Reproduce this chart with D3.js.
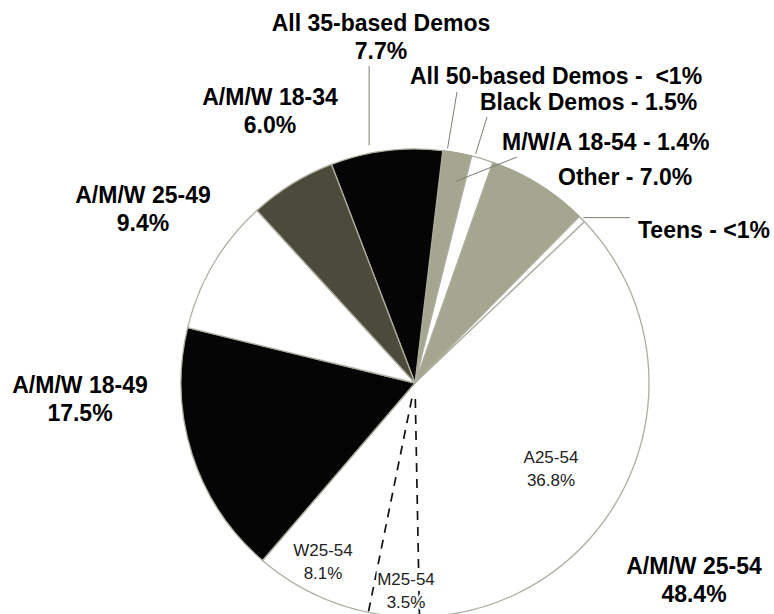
<!DOCTYPE html>
<html>
<head>
<meta charset="utf-8">
<script src="https://cdn.jsdelivr.net/npm/d3@7"></script>
<style>
  html, body { margin: 0; padding: 0; background: #fff; }
  svg { display: block; }
  .big { font-family: "Liberation Sans", Arial, sans-serif; font-weight: bold; font-size: 23px; fill: #000; white-space: pre; }
  .small { font-family: "Liberation Sans", Arial, sans-serif; font-size: 17px; fill: #222; }
</style>
</head>
<body>
<svg id="chart" width="774" height="614"></svg>
<script>
// Demo groups, clockwise from the top
const demoGroups = ["All 35-based Demos", "All 50-based Demos", "M/W/A 18-54", "Black Demos", "Other", "Teens",
                    "A/M/W 25-54", "A/M/W 18-49", "A/M/W 25-49", "A/M/W 18-34"];
const demoShares = [7.7, 0.6, 1.4, 1.5, 7.0, 0.5, 48.4, 17.5, 9.4, 6.0];
const demoShareText = ["7.7%", "<1%", "1.4%", "1.5%", "7.0%", "<1%", "48.4%", "17.5%", "9.4%", "6.0%"];

// Breakdown of the A/M/W 25-54 slice, clockwise
const subGroups = ["A25-54", "M25-54", "W25-54"];
const subShares = [36.8, 3.5, 8.1];
const subShareText = ["36.8%", "3.5%", "8.1%"];

const cx = 415, cy = 383, R = 234;
const startDeg = -20.9;
const rad = d => d * Math.PI / 180;

const GRAY = "#a4a690";
const fill = d3.scaleOrdinal().domain(demoGroups)
  .range(["#050505", GRAY, GRAY, "#ffffff", GRAY, "#ffffff",
          "#ffffff", "#050505", "#ffffff", "#4c4b3b"]);
const isGray = n => fill(n) === GRAY;

const svg = d3.select("#chart");
const g = svg.append("g").attr("transform", `translate(${cx},${cy})`);

const pie = d3.pie().sort(null).value(d => d.share)
  .startAngle(rad(startDeg)).endAngle(rad(startDeg + 360));
const slices = pie(demoGroups.map((name, i) => ({ name, share: demoShares[i], text: demoShareText[i] })));
const arc = d3.arc().innerRadius(0).outerRadius(R);

// gray slices first so the light outlines of the others stay on top
const drawOrder = slices.slice().sort((a, b) => (isGray(b.data.name) ? 1 : 0) - (isGray(a.data.name) ? 1 : 0));
g.selectAll("path.slice").data(drawOrder).join("path")
  .attr("class", "slice")
  .attr("d", arc)
  .attr("fill", d => fill(d.data.name))
  .attr("stroke", d => isGray(d.data.name) ? GRAY : "#aeaea0")
  .attr("stroke-width", 1.3)
  .attr("stroke-linejoin", "round");

// dashed split of the A/M/W 25-54 slice
const parent = slices.find(s => s.data.name === "A/M/W 25-54");
const subAngle = d3.scaleLinear().domain([0, d3.sum(subShares)]).range([parent.startAngle, parent.endAngle]);
const cum = d3.cumsum(subShares);
const splits = Array.from(cum).slice(0, -1).map(v => subAngle(v));
g.selectAll("line.split").data(splits).join("line")
  .attr("class", "split")
  .attr("x1", a => 16 * Math.sin(a)).attr("y1", a => -16 * Math.cos(a))
  .attr("x2", a => R * Math.sin(a)).attr("y2", a => -R * Math.cos(a))
  .attr("stroke", "#111").attr("stroke-width", 1.7).attr("stroke-dasharray", "9,7");

// label placement
const labelLayout = {
  "All 35-based Demos": { x: 381, y: 31, anchor: "middle", stacked: true, lead: { t: 0.36, r: R + 8, vertical: 66 } },
  "A/M/W 18-34":        { x: 270, y: 105, anchor: "middle", stacked: true },
  "A/M/W 25-49":        { x: 143, y: 203, anchor: "middle", stacked: true },
  "A/M/W 18-49":        { x: 80,  y: 393, anchor: "middle", stacked: true },
  "A/M/W 25-54":        { x: 694, y: 574, anchor: "middle", stacked: true },
  "All 50-based Demos": { x: 410, y: 84,  anchor: "start", sep: " -  ", lead: { t: 0.5, r: R + 3, to: [457, 92] } },
  "Black Demos":        { x: 480, y: 110, anchor: "start", sep: " - ", lead: { t: 0.15, r: R + 3, to: [487, 117] } },
  "M/W/A 18-54":        { x: 502, y: 150, anchor: "start", sep: " - ", lead: { t: 0.5, r: R * 0.88, to: [517, 157] } },
  "Other":              { x: 558, y: 185, anchor: "start", sep: " - " },
  "Teens":              { x: 638, y: 238, anchor: "start", sep: " - ", lead: { t: 0.5, r: R + 2, horizontal: 630 } }
};

const labels = svg.append("g");
slices.forEach(s => {
  const L = labelLayout[s.data.name];
  if (!L) return;
  if (L.stacked) {
    const t = labels.append("text").attr("class", "big").attr("text-anchor", L.anchor);
    t.append("tspan").attr("x", L.x).attr("y", L.y).text(s.data.name);
    t.append("tspan").attr("x", L.x).attr("y", L.y + 28).text(s.data.text);
  } else {
    labels.append("text").attr("class", "big").attr("text-anchor", L.anchor)
      .attr("x", L.x).attr("y", L.y).text(s.data.name + L.sep + s.data.text);
  }
  if (L.lead) {
    const a = s.startAngle + L.lead.t * (s.endAngle - s.startAngle);
    const ix = cx + L.lead.r * Math.sin(a), iy = cy - L.lead.r * Math.cos(a);
    let ox, oy;
    if (L.lead.vertical !== undefined) { ox = ix; oy = L.lead.vertical; }
    else if (L.lead.horizontal !== undefined) { ox = L.lead.horizontal; oy = iy; }
    else { [ox, oy] = L.lead.to; }
    labels.append("line").attr("x1", ix).attr("y1", iy).attr("x2", ox).attr("y2", oy)
      .attr("stroke", "#7d7d72").attr("stroke-width", 1);
  }
});

// labels inside the A/M/W 25-54 slice
const subLayout = { "A25-54": [551, 463], "M25-54": [406, 585], "W25-54": [323, 556] };
subGroups.forEach((name, i) => {
  const [x, y] = subLayout[name];
  const t = labels.append("text").attr("class", "small").attr("text-anchor", "middle")
    .attr("stroke", "#fff").attr("stroke-width", 4).attr("paint-order", "stroke");
  t.append("tspan").attr("x", x).attr("y", y).text(name);
  t.append("tspan").attr("x", x).attr("y", y + 23).text(subShareText[i]);
});
</script>
</body>
</html>
